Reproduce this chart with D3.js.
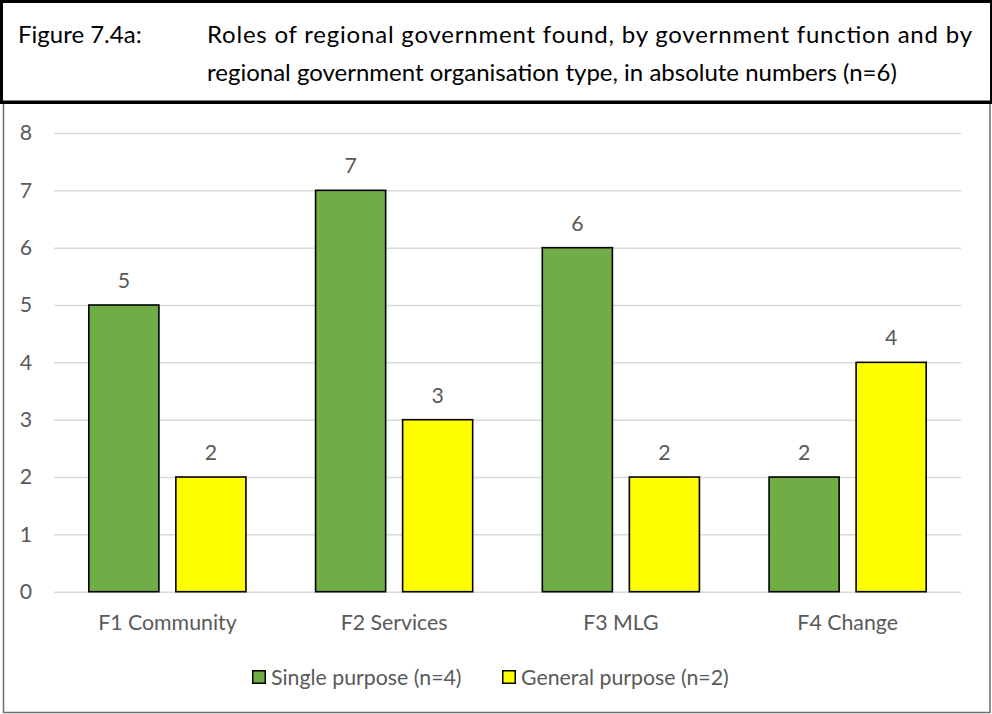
<!DOCTYPE html>
<html>
<head>
<meta charset="utf-8">
<script src="https://cdn.jsdelivr.net/npm/d3@7"></script>
<style>
  html, body { margin: 0; padding: 0; background: #fff; }
  svg { display: block; }
  text { font-family: Lato, "Open Sans", sans-serif; }
</style>
</head>
<body>
<svg id="chart" width="992" height="714"></svg>
<script>
// Roles of regional government by function and organisation type
const categories = ["F1 Community", "F2 Services", "F3 MLG", "F4 Change"];
const seriesNames = ["Single purpose (n=4)", "General purpose (n=2)"];
const singlePurpose = [5, 7, 6, 2];
const generalPurpose = [2, 3, 2, 4];
const yTicks = [0, 1, 2, 3, 4, 5, 6, 7, 8];
const seriesColors = ["#70AD47", "#FFFF00"];
const titleLabel = "Figure 7.4a:";
const titleLines = [
  "Roles of regional government found, by government function and by",
  "regional government organisation type, in absolute numbers (n=6)"
];

const values = [singlePurpose, generalPurpose];
const rows = categories.map((c, i) => ({
  category: c,
  bars: seriesNames.map((s, j) => ({ series: s, value: values[j][i], color: seriesColors[j] }))
}));

const svg = d3.select("#chart");
const textColor = "#595959";
const labelSize = 21.3;
const titleSize = 24;

// Header box with the figure caption
svg.append("rect")
  .attr("x", 1.5).attr("y", 1.5).attr("width", 990).attr("height", 100.5)
  .attr("fill", "none").attr("stroke", "#000").attr("stroke-width", 3);

svg.append("text")
  .attr("x", 18).attr("y", 43)
  .attr("font-size", titleSize).attr("fill", "#000")
  .text(titleLabel);

svg.append("text")
  .attr("x", 207).attr("y", 43)
  .attr("font-size", titleSize).attr("fill", "#000")
  .attr("textLength", 765).attr("lengthAdjust", "spacing")
  .text(titleLines[0]);

svg.append("text")
  .attr("x", 207).attr("y", 81)
  .attr("font-size", titleSize).attr("fill", "#000")
  .text(titleLines[1]);

// Chart frame
svg.append("rect")
  .attr("x", 3.5).attr("y", 103).attr("width", 986.5).attr("height", 609.5)
  .attr("fill", "none").attr("stroke", "#6e6e6e").attr("stroke-width", 1.5);
svg.append("line")
  .attr("x1", 0).attr("x2", 992).attr("y1", 102.5).attr("y2", 102.5)
  .attr("stroke", "#000").attr("stroke-width", 3);

// Plot area
const plot = { left: 54, right: 961, top: 133, bottom: 591.7 };

const x0 = d3.scaleBand()
  .domain(categories)
  .range([plot.left, plot.right])
  .padding(0);

const x1 = d3.scaleBand()
  .domain(seriesNames)
  .range([0, x0.bandwidth()])
  .paddingInner(0.195)
  .paddingOuter(0.4);

const y = d3.scaleLinear()
  .domain([0, 8])
  .range([plot.bottom, plot.top]);

// Gridlines
const grid = svg.append("g")
  .attr("transform", `translate(${plot.left},0)`)
  .call(d3.axisLeft(y).tickValues(yTicks).tickSize(-(plot.right - plot.left)).tickFormat(""));
grid.select(".domain").remove();
grid.selectAll(".tick line").attr("stroke", "#D9D9D9").attr("stroke-width", 1.5);

// Y tick labels
const yAxis = svg.append("g")
  .attr("transform", `translate(${plot.left - 22},0)`)
  .call(d3.axisLeft(y).tickValues(yTicks).tickSize(0).tickPadding(0).tickFormat(d3.format("d")));
yAxis.select(".domain").remove();
yAxis.selectAll("text")
  .attr("font-family", "Lato, sans-serif")
  .attr("font-size", labelSize)
  .attr("fill", textColor);

// Category labels
const xAxis = svg.append("g")
  .attr("transform", `translate(0,${plot.bottom})`)
  .call(d3.axisBottom(x0).tickSize(0).tickPadding(0));
xAxis.select(".domain").remove();
xAxis.selectAll("text")
  .attr("font-family", "Lato, sans-serif")
  .attr("font-size", labelSize)
  .attr("fill", textColor)
  .attr("dy", null)
  .attr("y", 38.5);

// Bars
const groups = svg.append("g").selectAll("g")
  .data(rows)
  .join("g")
  .attr("transform", d => `translate(${x0(d.category)},0)`);

groups.selectAll("rect")
  .data(d => d.bars)
  .join("rect")
  .attr("x", d => x1(d.series))
  .attr("y", d => y(d.value))
  .attr("width", x1.bandwidth())
  .attr("height", d => y(0) - y(d.value))
  .attr("fill", d => d.color)
  .attr("stroke", "#000")
  .attr("stroke-width", 1.6);

// Value labels
groups.selectAll("text.value")
  .data(d => d.bars)
  .join("text")
  .attr("class", "value")
  .attr("x", d => x1(d.series) + x1.bandwidth() / 2)
  .attr("y", d => y(d.value) - 17)
  .attr("text-anchor", "middle")
  .attr("font-size", labelSize)
  .attr("fill", textColor)
  .text(d => d.value);

// Legend
const legendPos = [252, 502];
const legend = svg.append("g").selectAll("g")
  .data(seriesNames)
  .join("g")
  .attr("transform", (d, i) => `translate(${legendPos[i]},670)`);

legend.append("rect")
  .attr("x", 0.75).attr("y", 0.75)
  .attr("width", 12.5).attr("height", 12.5)
  .attr("fill", (d, i) => seriesColors[i])
  .attr("stroke", "#000").attr("stroke-width", 1.5);

legend.append("text")
  .attr("x", 19).attr("y", 14.5)
  .attr("font-size", labelSize)
  .attr("fill", textColor)
  .text(d => d);
</script>
</body>
</html>
